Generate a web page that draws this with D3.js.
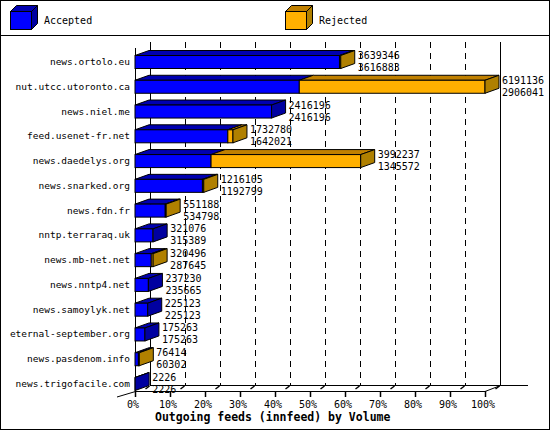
<!DOCTYPE html>
<html><head><meta charset="utf-8">
<script src="https://cdn.jsdelivr.net/npm/d3@7"></script>
<style>body{margin:0;background:#fff}svg text{font-family:"DejaVu Sans Mono",monospace}</style>
</head><body><svg id="chart" width="550" height="430"></svg>
<script>
var hosts = ["news.ortolo.eu","nut.utcc.utoronto.ca","news.niel.me","feed.usenet-fr.net","news.daedelys.org","news.snarked.org","news.fdn.fr","nntp.terraraq.uk","news.mb-net.net","news.nntp4.net","news.samoylyk.net","eternal-september.org","news.pasdenom.info","news.trigofacile.com"];
var offered = [3639346,6191136,2416196,1732780,3992237,1216105,551188,321076,320496,237230,225123,175263,76414,2226];
var accepted = [3616883,2906041,2416196,1642021,1345572,1192799,534798,315389,287645,235665,225123,175263,60302,2226];
var tickLabels = ["0%","10%","20%","30%","40%","50%","60%","70%","80%","90%","100%"];

var svg = d3.select("#chart");
var blue = {front:"#0000ff", top:"#0000b0", side:"#0000a0"};
var orange = {front:"#ffb000", top:"#c08000", side:"#b08000"};
var dx = 14, dy = 5;
var x = d3.scaleLinear().domain([0, d3.max(offered)]).range([135, 485]);
var pct = d3.scaleLinear().domain([0, 100]).range([135, 485]);
var y = d3.scalePoint().domain(hosts).range([62, 384]);

svg.append("rect").attr("x",0.5).attr("y",0.5).attr("width",549).attr("height",429)
    .attr("fill","#fff").attr("stroke","#000");
svg.append("line").attr("x1",0).attr("x2",550).attr("y1",35.5).attr("y2",35.5).attr("stroke","#000");

// legend
function box(g, x0, y0, w, h, d, e, c) {
    g.append("path").attr("d","M"+x0+","+y0+"l"+d+","+(-e)+"h"+w+"l"+(-d)+","+e+"z")
        .attr("fill",c.top).attr("stroke","#000");
    g.append("path").attr("d","M"+(x0+w)+","+y0+"l"+d+","+(-e)+"v"+h+"l"+(-d)+","+e+"z")
        .attr("fill",c.side).attr("stroke","#000");
    g.append("rect").attr("x",x0).attr("y",y0).attr("width",w).attr("height",h)
        .attr("fill",c.front).attr("stroke","#000");
}
var leg = svg.append("g");
box(leg, 10.5, 11.5, 21, 18, 6, 6, blue);
box(leg, 285.5, 11.5, 21, 18, 6, 6, orange);
leg.append("text").attr("x",44).attr("y",24).attr("font-size","10px").text("Accepted");
leg.append("text").attr("x",319).attr("y",24).attr("font-size","10px").text("Rejected");

// back wall grid
var ticks = d3.range(0, 101, 10);
svg.selectAll(".grid").data(ticks).enter().append("line")
    .attr("x1", function(d){ return pct(d)+15.5; }).attr("x2", function(d){ return pct(d)+15.5; })
    .attr("y1", 42).attr("y2", 385)
    .attr("stroke","#000")
    .attr("stroke-dasharray", function(d){ return (d===0||d===100) ? null : "6,5"; });
svg.append("line").attr("x1",150).attr("x2",528).attr("y1",385.5).attr("y2",385.5).attr("stroke","#000");
svg.append("line").attr("x1",135.5).attr("x2",135.5).attr("y1",48).attr("y2",391).attr("stroke","#000");
svg.append("path").attr("d","M117,397L135.5,391.5H485L500.5,385.5").attr("fill","none").attr("stroke","#000");
svg.selectAll(".tk").data(ticks).enter().append("path")
    .attr("d", function(d){ var p = pct(d)+0.5; return "M"+p+",391V397M"+(p+10)+",389l4,-3"; })
    .attr("stroke","#000").attr("stroke-width", 1.5).attr("fill","none");
svg.selectAll(".tl").data(tickLabels).enter().append("text")
    .attr("x", function(d,i){ return pct(i*10)-2; }).attr("y", 408)
    .attr("text-anchor","middle").attr("font-size","10px").text(function(d){ return d; });
svg.append("text").attr("x",155).attr("y",421).attr("font-size","11.5px").attr("font-weight","bold")
    .text("Outgoing feeds (innfeed) by Volume");

// bars
var rows = svg.selectAll(".row").data(hosts).enter().append("g")
    .attr("transform", function(d){ return "translate(0,"+y(d)+")"; });
rows.append("text").attr("x",130).attr("y",3).attr("text-anchor","end").attr("font-size","9.5px")
    .text(function(d){ return d; });
rows.each(function(d, i) {
    var g = d3.select(this);
    var xa = x(accepted[i]), xo = x(offered[i]);
    var top = -6.5;
    var segs = [{a:x(0), b:xa, c:blue}];
    if (xo - xa > 0.5) segs.push({a:xa, b:xo, c:orange});
    segs.forEach(function(s){
        g.append("path").attr("d","M"+s.a+","+top+"l"+dx+","+(-dy)+"H"+(s.b+dx)+"l"+(-dx)+","+dy+"z")
            .attr("fill",s.c.top).attr("stroke","#000");
        g.append("rect").attr("x",s.a).attr("y",top).attr("width",s.b-s.a).attr("height",13)
            .attr("fill",s.c.front).attr("stroke","#000");
    });
    var last = segs[segs.length-1].c;
    g.append("path").attr("d","M"+xo+","+top+"l"+dx+","+(-dy)+"v13l"+(-dx)+","+dy+"z")
        .attr("fill",last.side).attr("stroke","#000");
    g.append("text").attr("x",xo+dx+3).attr("y",-3).attr("font-size","10px").text(offered[i]);
    g.append("text").attr("x",xo+dx+3).attr("y",9).attr("font-size","10px").text(accepted[i]);
});
</script></body></html>
